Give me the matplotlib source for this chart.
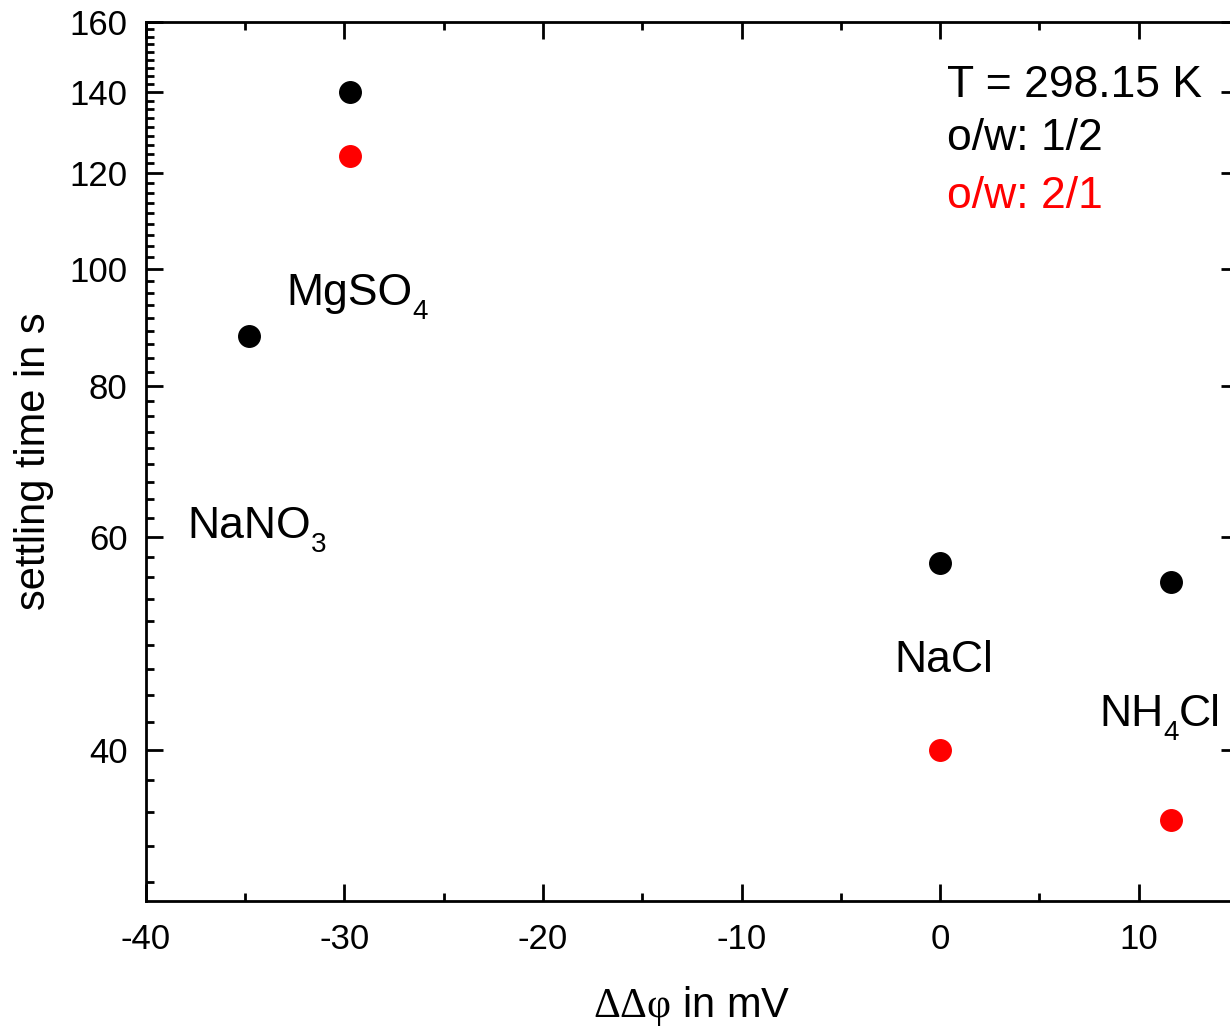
import numpy as np
import matplotlib
matplotlib.use("Agg")
import matplotlib.pyplot as plt
from matplotlib.ticker import FixedLocator, NullFormatter

plt.rcParams["font.family"] = ["Liberation Sans", "DejaVu Sans"]
plt.rcParams["mathtext.fontset"] = "custom"
plt.rcParams["mathtext.rm"] = "Liberation Serif"
plt.rcParams["mathtext.it"] = "Liberation Serif:italic"
plt.rcParams["axes.unicode_minus"] = False

# o/w 1/2 (black) and o/w 2/1 (red)
x_black = [-34.8, -29.7, 0.0, 11.6]
y_black = [88.0, 140.0, 57.1, 55.1]
x_red = [-29.7, 0.0, 11.6]
y_red = [124.0, 40.0, 35.0]

# salt labels: (main part, subscript, tail)
salts = [("MgSO", "4", ""), ("NaNO", "3", ""), ("NaCl", "", ""), ("NH", "4", "Cl")]
salt_pos = [(-32.9, 93.3), (-37.9, 59.9), (-2.3, 46.4), (8.0, 41.9)]

x_ticks = [-40, -30, -20, -10, 0, 10]
y_ticks = [40, 60, 80, 100, 120, 140, 160]

fig = plt.figure(figsize=(12.3, 10.33), dpi=100)
ax = fig.add_axes([0.11846, 0.1278, 0.8881, 0.8509])

ax.plot(x_black, y_black, "o", color="black", markersize=15.5, zorder=3)
ax.plot(x_red, y_red, "o", color="#ff0000", markersize=15.5, zorder=3)

ax.set_yscale("log")
ax.set_xlim(-40, 15)
ax.set_ylim(30, 160)

ax.set_xticks(x_ticks, labels=[str(v) for v in x_ticks])
ax.xaxis.set_minor_locator(FixedLocator(np.arange(-35, 15, 10)))
ax.set_yticks(y_ticks, labels=[str(v) for v in y_ticks])
ax.yaxis.set_minor_locator(FixedLocator(np.arange(20, 161, 20 / 9)))
ax.yaxis.set_minor_formatter(NullFormatter())

ax.tick_params(which="both", direction="in", top=True, right=True, width=2)
ax.tick_params(which="major", length=12, labelsize=25)
ax.tick_params(axis="x", which="major", pad=16)
ax.tick_params(axis="y", which="major", pad=13)
ax.tick_params(which="minor", length=5.5)
for s in ax.spines.values():
    s.set_linewidth(2)

ax.set_xlabel("$\\mathrm{ΔΔφ}$ in mV", fontsize=30, labelpad=20)
ax.set_ylabel("settling time in s", fontsize=30, labelpad=11)

for (main, sub, tail), (xx, yy) in zip(salts, salt_pos):
    t = ax.text(xx, yy, main, fontsize=32, ha="left", va="baseline")
    if sub:
        s = ax.annotate(sub, xy=(1, 0), xycoords=t, xytext=(0, -8),
                        textcoords="offset points", fontsize=20,
                        ha="left", va="bottom")
        if tail:
            ax.annotate(tail, xy=(1, 0), xycoords=(s, t), xytext=(0, 0),
                        textcoords="offset points", fontsize=32,
                        ha="left", va="bottom")

ax.text(0.33, 138.8, "T = 298.15 K", fontsize=32, ha="left", va="baseline")
ax.text(0.33, 125.4, "o/w: 1/2", fontsize=32, ha="left", va="baseline")
ax.text(0.33, 112.3, "o/w: 2/1", fontsize=32, ha="left", va="baseline", color="#ff0000")

fig.savefig("out.png", dpi=100)
